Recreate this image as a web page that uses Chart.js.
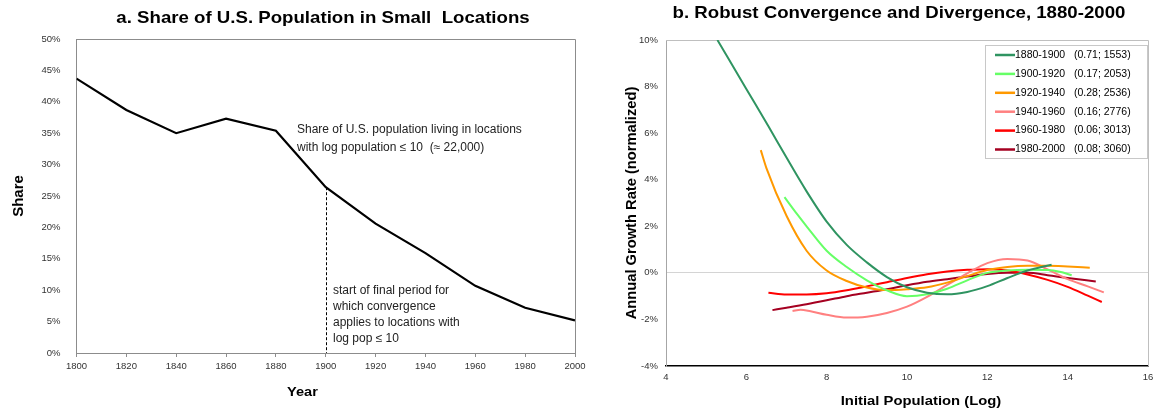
<!DOCTYPE html>
<html>
<head>
<meta charset="utf-8">
<script src="https://cdn.jsdelivr.net/npm/chart.js@4.4.1/dist/chart.umd.min.js"></script>
<style>
  html, body { margin: 0; padding: 0; background: #fff; }
  #wrap { position: relative; width: 1157px; height: 416px; overflow: hidden; }
  #chartA { position: absolute; left: 0; top: 0; }
  #chartB { position: absolute; left: 580px; top: 0; }
</style>
</head>
<body>
<div id="wrap">
  <canvas id="chartA" width="600" height="416"></canvas>
  <canvas id="chartB" width="577" height="416"></canvas>
</div>
<script>
const FONT = "'Liberation Sans', Arial, sans-serif";

// panel a: share of population in small locations (%)
const years      = [1800, 1820, 1840, 1860, 1880, 1900, 1920, 1940, 1960, 1980, 2000];
const smallShare = [43.7, 38.7, 35.0, 37.3, 35.4, 26.4, 20.6, 15.9, 10.7, 7.2, 5.2];
const cutoffYear = 1900;

// panel b: smoothed growth vs initial log population
const periods  = ['1880-1900', '1900-1920', '1920-1940', '1940-1960', '1960-1980', '1980-2000'];
const fitNotes = ['(0.71; 1553)', '(0.17; 2053)', '(0.28; 2536)', '(0.16; 2776)', '(0.06; 3013)', '(0.08; 3060)'];

const logPop1880 = [5.28, 6.0, 6.55, 7.0, 7.5, 8.0, 8.5, 9.0, 9.5, 10.0, 10.5, 11.0, 11.5, 12.0, 12.5, 13.0, 13.6];
const growth1880 = [10.0, 7.9, 6.3, 4.95, 3.5, 2.2, 1.2, 0.45, -0.18, -0.62, -0.85, -0.92, -0.82, -0.57, -0.22, 0.1, 0.35];

const logPop1900 = [6.95, 7.25, 7.5, 8.0, 8.5, 9.0, 9.5, 10.0, 10.5, 11.0, 11.5, 12.0, 12.5, 13.0, 13.5, 13.8, 14.1];
const growth1900 = [3.25, 2.55, 2.0, 0.95, 0.25, -0.32, -0.75, -1.0, -0.92, -0.68, -0.32, 0.0, 0.1, 0.13, 0.12, 0.05, -0.1];

const logPop1920 = [6.36, 6.5, 7.0, 7.5, 8.0, 8.5, 9.0, 9.5, 10.0, 10.5, 11.0, 11.5, 12.0, 12.5, 13.0, 13.5, 14.0, 14.55];
const growth1920 = [5.27, 4.5, 2.45, 0.95, 0.1, -0.35, -0.63, -0.74, -0.7, -0.62, -0.42, -0.14, 0.12, 0.25, 0.3, 0.3, 0.27, 0.22];

const logPop1940 = [7.15, 7.35, 7.6, 8.0, 8.5, 9.0, 9.5, 10.0, 10.5, 11.0, 11.5, 12.0, 12.5, 13.0, 13.5, 14.0, 14.5, 14.9];
const growth1940 = [-1.64, -1.58, -1.65, -1.8, -1.92, -1.88, -1.72, -1.45, -1.03, -0.52, -0.02, 0.42, 0.6, 0.53, 0.15, -0.27, -0.58, -0.84];

const logPop1960 = [6.55, 7.0, 7.5, 8.0, 8.5, 9.0, 9.5, 10.0, 10.5, 11.0, 11.5, 12.0, 12.5, 13.0, 13.5, 14.0, 14.5, 14.85];
const growth1960 = [-0.85, -0.93, -0.93, -0.88, -0.75, -0.58, -0.4, -0.22, -0.06, 0.06, 0.13, 0.16, 0.1, -0.07, -0.3, -0.6, -0.98, -1.25];

const logPop1980 = [6.65, 7.0, 7.5, 8.0, 8.5, 9.0, 9.5, 10.0, 10.5, 11.0, 11.5, 12.0, 12.5, 13.0, 13.5, 14.0, 14.7];
const growth1980 = [-1.6, -1.5, -1.35, -1.18, -1.0, -0.85, -0.7, -0.53, -0.38, -0.27, -0.16, -0.05, 0.0, 0.0, -0.1, -0.22, -0.37];

const periodColors = ['#2F9461', '#66FF66', '#FF9900', '#FF8080', '#FF0000', '#A50021'];

const toPoints = (xs, ys) => xs.map((x, i) => ({ x, y: ys[i] }));

// free text drawn on the canvas (titles, notes)
const panelText = {
  id: 'panelText',
  afterDraw(chart, args, opts) {
    const ctx = chart.ctx;
    (opts.items || []).forEach(t => {
      ctx.save();
      ctx.font = t.font;
      ctx.fillStyle = t.color || '#000';
      ctx.textAlign = t.align || 'left';
      ctx.textBaseline = 'middle';
      ctx.translate(t.x, t.y);
      ctx.scale(t.stretch || 1, 1);
      ctx.fillText(t.text, 0, 0);
      ctx.restore();
    });
  }
};

// top and right edges of the plot box
const frame = {
  id: 'frame',
  beforeDatasetsDraw(chart, args, opts) {
    const { ctx, chartArea: a } = chart;
    ctx.save();
    ctx.strokeStyle = opts.color;
    ctx.lineWidth = 1;
    ctx.beginPath();
    ctx.moveTo(a.left, Math.round(a.top) + 0.5);
    ctx.lineTo(Math.round(a.right) + 0.5, Math.round(a.top) + 0.5);
    ctx.lineTo(Math.round(a.right) + 0.5, a.bottom);
    ctx.stroke();
    ctx.restore();
  }
};

// dashed marker at the cutoff year
const markerLine = {
  id: 'markerLine',
  afterDatasetsDraw(chart) {
    const { ctx, scales: { x, y } } = chart;
    const i = years.indexOf(cutoffYear);
    const px = Math.round(x.getPixelForValue(cutoffYear)) + 0.5;
    ctx.save();
    ctx.setLineDash([3, 2]);
    ctx.strokeStyle = '#000';
    ctx.lineWidth = 1;
    ctx.beginPath();
    ctx.moveTo(px, y.getPixelForValue(smallShare[i]));
    ctx.lineTo(px, y.getPixelForValue(0));
    ctx.stroke();
    ctx.restore();
  }
};

// boxed legend inside the plot
const boxLegend = {
  id: 'boxLegend',
  afterDraw(chart, args, o) {
    const ctx = chart.ctx;
    ctx.save();
    ctx.fillStyle = '#fff';
    ctx.fillRect(o.x, o.y, o.w, o.h);
    ctx.strokeStyle = '#c8c8c8';
    ctx.lineWidth = 1;
    ctx.strokeRect(o.x + 0.5, o.y + 0.5, o.w, o.h);
    ctx.font = '10.5px ' + FONT;
    ctx.textBaseline = 'middle';
    ctx.fillStyle = '#000';
    chart.data.datasets.forEach((ds, i) => {
      const yy = o.y + o.first + i * o.gap;
      ctx.strokeStyle = ds.borderColor;
      ctx.lineWidth = 2.5;
      ctx.beginPath();
      ctx.moveTo(o.x + 10, yy);
      ctx.lineTo(o.x + 30, yy);
      ctx.stroke();
      ctx.fillText(ds.label, o.x + 30, yy);
      ctx.fillText(fitNotes[i], o.x + 89, yy);
    });
    ctx.restore();
  }
};

const tickFont = { family: FONT, size: 9.5 };
const tickColor = '#333';

new Chart(document.getElementById('chartA'), {
  type: 'line',
  data: {
    datasets: [{
      data: toPoints(years, smallShare),
      borderColor: '#000',
      borderWidth: 2.2,
      pointRadius: 0,
      tension: 0,
    }],
  },
  options: {
    responsive: false,
    animation: false,
    events: [],
    layout: { padding: { top: 39, right: 25, left: 0, bottom: 0 } },
    plugins: {
      legend: { display: false },
      tooltip: { enabled: false },
      frame: { color: '#8c8c8c' },
      panelText: {
        items: [
          { text: 'a. Share of U.S. Population in Small  Locations', x: 323, y: 18, font: 'bold 16.5px ' + FONT, align: 'center', stretch: 1.13 },
          { text: 'Year', x: 302.5, y: 392.5, font: 'bold 13px ' + FONT, align: 'center', stretch: 1.12 },
          { text: 'Share of U.S. population living in locations', x: 297, y: 130, font: '12px ' + FONT, color: '#222' },
          { text: 'with log population \u2264 10  (\u2248 22,000)', x: 297, y: 147.5, font: '12px ' + FONT, color: '#222' },
          { text: 'start of final period for', x: 333, y: 291, font: '12px ' + FONT, color: '#222' },
          { text: 'which convergence', x: 333, y: 307, font: '12px ' + FONT, color: '#222' },
          { text: 'applies to locations with', x: 333, y: 323, font: '12px ' + FONT, color: '#222' },
          { text: 'log pop \u2264 10', x: 333, y: 339, font: '12px ' + FONT, color: '#222' },
        ],
      },
    },
    scales: {
      x: {
        type: 'linear',
        min: 1800,
        max: 2000,
        ticks: { stepSize: 20, autoSkip: false, maxRotation: 0, padding: 4, font: tickFont, color: tickColor, callback: v => String(v) },
        grid: { drawOnChartArea: false, tickLength: 4, color: '#8c8c8c' },
        border: { color: '#8c8c8c' },
        afterFit: s => { s.height = 63; s.paddingLeft = 0; s.paddingRight = 0; },
      },
      y: {
        min: 0,
        max: 50,
        ticks: { stepSize: 5, padding: 8, font: tickFont, color: tickColor, callback: v => v + '%' },
        grid: { display: false },
        border: { color: '#8c8c8c' },
        title: { display: true, text: 'Share', color: '#000', font: { family: FONT, size: 15, weight: 'bold' }, padding: { top: 9.5, bottom: 0 } },
        afterFit: s => { s.width = 76.5; },
      },
    },
  },
  plugins: [frame, markerLine, panelText],
});

const seriesX = [logPop1880, logPop1900, logPop1920, logPop1940, logPop1960, logPop1980];
const seriesY = [growth1880, growth1900, growth1920, growth1940, growth1960, growth1980];

new Chart(document.getElementById('chartB'), {
  type: 'line',
  data: {
    datasets: periods.map((p, i) => ({
      label: p,
      data: toPoints(seriesX[i], seriesY[i]),
      borderColor: periodColors[i],
      borderWidth: 2,
      pointRadius: 0,
      cubicInterpolationMode: 'monotone',
    })),
  },
  options: {
    responsive: false,
    animation: false,
    events: [],
    layout: { padding: { top: 40, right: 9, left: 0, bottom: 0 } },
    plugins: {
      legend: { display: false },
      tooltip: { enabled: false },
      frame: { color: '#bfbfbf' },
      boxLegend: { x: 405, y: 45, w: 162, h: 113, first: 10, gap: 18.9 },
      panelText: {
        items: [
          { text: 'b. Robust Convergence and Divergence, 1880-2000', x: 319, y: 13.5, font: 'bold 16.5px ' + FONT, align: 'center', stretch: 1.13 },
          { text: 'Initial Population (Log)', x: 341, y: 401.5, font: 'bold 13px ' + FONT, align: 'center', stretch: 1.14 },
        ],
      },
    },
    scales: {
      x: {
        type: 'linear',
        min: 4,
        max: 16,
        ticks: { stepSize: 2, autoSkip: false, maxRotation: 0, padding: 6, font: tickFont, color: tickColor },
        grid: { display: false, drawTicks: false },
        border: { color: '#000', width: 1.5 },
        afterFit: s => { s.height = 50; s.paddingLeft = 0; s.paddingRight = 0; },
      },
      y: {
        min: -4,
        max: 10,
        ticks: { stepSize: 2, padding: 8, font: tickFont, color: tickColor, callback: v => v + '%' },
        grid: { drawTicks: false, color: c => (c.tick && c.tick.value === 0 ? '#d4d4d4' : 'rgba(0,0,0,0)') },
        border: { color: '#a6a6a6' },
        title: { display: true, text: 'Annual Growth Rate (normalized)', color: '#000', font: { family: FONT, size: 14.7, weight: 'bold' }, padding: { top: 43, bottom: 0 } },
        afterFit: s => { s.width = 86; },
      },
    },
  },
  plugins: [frame, boxLegend, panelText],
});
</script>
</body>
</html>
